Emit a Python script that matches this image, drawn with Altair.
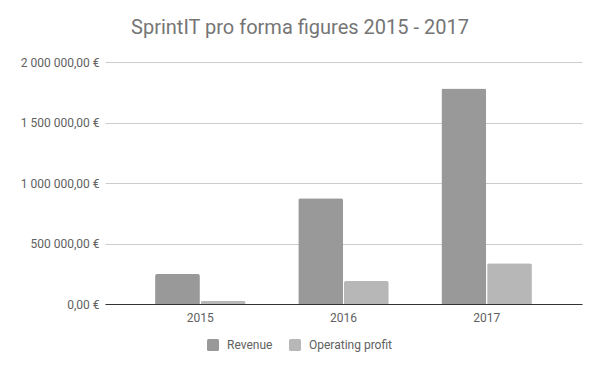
import altair as alt
import pandas as pd

years = ["2015", "2016", "2017"]
revenue = [248000, 875000, 1780000]
operating_profit = [25000, 190000, 336000]
series = ["Revenue", "Operating profit"]
colors = ["#999999", "#b7b7b7"]

rows = []
for i, y in enumerate(years):
    rows.append({"year": y, "series": series[0], "value": revenue[i]})
    rows.append({"year": y, "series": series[1], "value": operating_profit[i]})
df = pd.DataFrame(rows)

rounded_square = "M-0.75,-1H0.75Q1,-1 1,-0.75V0.75Q1,1 0.75,1H-0.75Q-1,1 -1,0.75V-0.75Q-1,-1 -0.75,-1Z"

label_expr = ("replace(replace(format(datum.value, ',.2f'), regexp(',', 'g'), ' '), '.', ',') + ' €'")

chart = alt.Chart(df).mark_bar(cornerRadiusTopLeft=2, cornerRadiusTopRight=2).encode(
    x=alt.X("year:N", sort=years, title=None,
            scale=alt.Scale(paddingInner=0.368, paddingOuter=0.35),
            axis=alt.Axis(labelAngle=0, ticks=False, domainColor="#333333", domainWidth=1,
                          labelPadding=8, labelFontSize=12, labelColor="#616161", labelFont="Roboto")),
    xOffset=alt.XOffset("series:N", sort=series, scale=alt.Scale(paddingInner=0.02)),
    y=alt.Y("value:Q", title=None,
            scale=alt.Scale(domain=[0, 2000000]),
            axis=alt.Axis(values=[0, 500000, 1000000, 1500000, 2000000], domain=False, ticks=False,
                          gridColor="#cccccc", labelPadding=6, labelFontSize=12, labelColor="#616161",
                          labelFont="Roboto", labelExpr=label_expr)),
    color=alt.Color("series:N", sort=series,
                    scale=alt.Scale(domain=series, range=colors),
                    legend=alt.Legend(title=None, orient="none", direction="horizontal",
                                      legendX=102, legendY=277,
                                      symbolType=rounded_square, symbolSize=144,
                                      symbolStrokeWidth=0, labelOffset=8, columnPadding=16,
                                      labelFontSize=12, labelColor="#616161", labelFont="Roboto")),
).properties(
    width=477,
    height=242,
    title=alt.TitleParams("SprintIT pro forma figures 2015 - 2017", font="Roboto", fontSize=20,
                          fontWeight="normal", color="#757575", anchor="middle", dx=-43.5, offset=18),
    autosize=alt.AutoSizeParams(type="none"),
    padding={"left": 97, "top": 54, "right": 10, "bottom": 50},
).configure_view(stroke=None)

chart.save("out.html", embed_options={"renderer": "svg", "actions": False})
